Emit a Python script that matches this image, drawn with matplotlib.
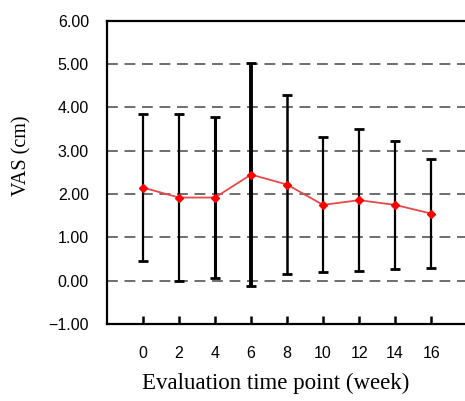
import matplotlib.pyplot as plt

weeks = ["0", "2", "4", "6", "8", "10", "12", "14", "16"]
vas_mean = [2.15, 1.92, 1.92, 2.45, 2.22, 1.75, 1.86, 1.75, 1.55]
vas_sd = [1.70, 1.93, 1.85, 2.57, 2.07, 1.56, 1.64, 1.47, 1.26]
bar_widths = [1.6, 1.6, 2.2, 2.8, 1.8, 1.6, 1.6, 1.6, 1.6]

fig = plt.figure(figsize=(4.65, 4.01), dpi=100)
ax = fig.add_axes([0.230, 0.192, 0.770, 0.756])

xs = list(range(len(weeks)))

# grid lines first so the bars sit on top
for yv in range(0, 6):
    ax.axhline(yv, color="#555555", lw=1.2, dashes=(6.5, 4), zorder=1)

for x, m, s, w in zip(xs, vas_mean, vas_sd, bar_widths):
    ax.errorbar(x, m, yerr=s, fmt="none", ecolor="black", elinewidth=w,
                capsize=3.3, capthick=2, zorder=2)

ax.plot(xs, vas_mean, color="#e84848", lw=1.3, zorder=3)
ax.plot(xs, vas_mean, "D", color="red", ms=4.5, zorder=4)

ax.set_xlim(-1, 8.94)
ax.set_ylim(-1, 6)
ax.set_xticks(xs)
ax.set_xticklabels(weeks)
ax.set_yticks(range(-1, 7))
ax.set_yticklabels(["\u22121.00" if v < 0 else "%.2f" % v for v in range(-1, 7)])

for side in ["left", "bottom", "top"]:
    ax.spines[side].set_linewidth(1.6)
ax.spines["right"].set_visible(False)

ax.tick_params(axis="x", direction="in", length=6, width=1.8, pad=16,
               labelsize=11.5)
ax.tick_params(axis="y", length=0, pad=13, labelsize=11.5)
for lab in ax.get_xticklabels() + ax.get_yticklabels():
    lab.set_fontfamily("Liberation Sans")

ax.set_xlabel("Evaluation time point (week)", fontfamily="Liberation Serif",
              fontsize=16.5)
ax.set_ylabel("VAS (cm)", fontfamily="Liberation Serif", fontsize=14.5)
ax.xaxis.set_label_coords(0.472, -0.16)
ax.yaxis.set_label_coords(-0.21, 0.555)

fig.savefig("out.png", dpi=100)
